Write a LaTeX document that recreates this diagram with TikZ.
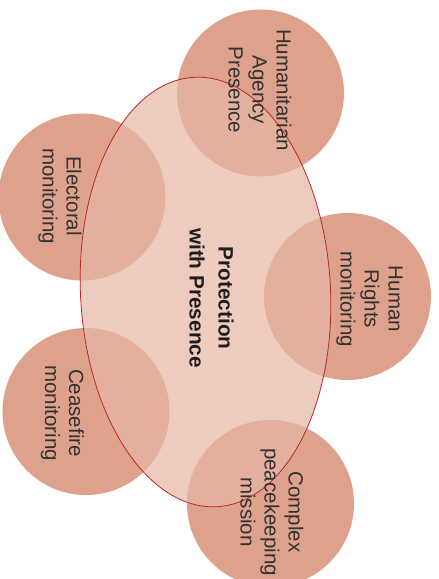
\documentclass[tikz,border=0pt]{standalone}
\usepackage{fontspec}
\setmainfont{Liberation Sans}
\definecolor{petal}{RGB}{222,161,140}
\definecolor{corefill}{RGB}{231,183,166}
\definecolor{rim}{RGB}{185,40,35}
\definecolor{ink}{RGB}{50,50,50}
\definecolor{darkink}{RGB}{30,30,30}
\begin{document}
\begin{tikzpicture}[x=1pt,y=-1pt,
  petalcircle/.style={circle, fill=petal, minimum size=167pt, inner sep=0pt},
  petaltext/.style={rotate=-90, align=center, text=ink, inner sep=0pt,
    font=\fontsize{20.5}{24}\selectfont},
  coretext/.style={rotate=-90, align=center, text=darkink, inner sep=0pt,
    font=\fontsize{20.8}{29}\selectfont\bfseries}]
\useasboundingbox (0,0) rectangle (439,579);

% outer circles
\node[petalcircle] (hum) at (260.5,93) {};
\node[petalcircle] (ele) at (82,197) {};
\node[petalcircle] (hr)  at (347.5,296.5) {};
\node[petalcircle] (cea) at (86,411.5) {};
\node[petalcircle] (cpx) at (270.5,503.5) {};

% central ellipse, translucent over the circles
\coordinate (core) at (205.5,292);
\fill[corefill, fill opacity=0.72] (core) ellipse [x radius=125pt, y radius=215pt, rotate=3];
\draw[rim, line width=0.8pt] (core) ellipse [x radius=125pt, y radius=215pt, rotate=3];

% labels
\node[petaltext] (humT) at (260,90) {Humanitarian\\Agency\\Presence};
\node[petaltext] (eleT) at (60,196) {Electoral\\monitoring};
\node[petaltext] (hrT)  at (369.5,299) {Human\\Rights\\monitoring};
\node[petaltext] (ceaT) at (62.5,413) {Ceasefire\\monitoring};
\node[petaltext] (cpxT) at (272,512) {Complex\\peacekeeping\\mission};
\node[coretext]  (coreT) at (211.5,298) {Protection\\with Presence};
\end{tikzpicture}
\end{document}
